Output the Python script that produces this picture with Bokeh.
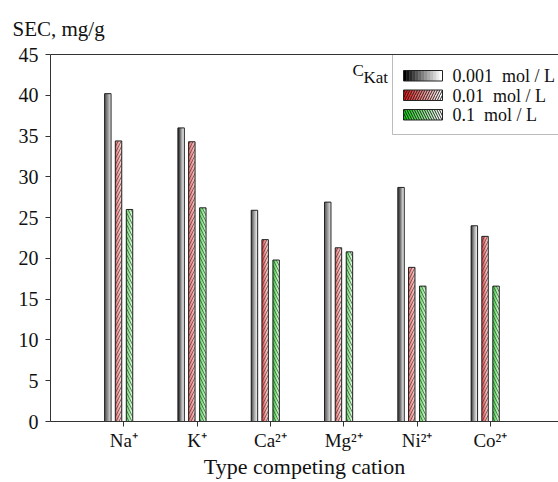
import numpy as np
from bokeh.plotting import figure
from bokeh.models import Range1d, FixedTicker, LinearAxis, Label, BoxAnnotation, Title
from bokeh.embed import file_html
from bokeh.resources import INLINE

# ---------------- data ----------------
cations = ["Na", "K", "Ca", "Mg", "Ni", "Co"]
charges = ["+", "+", "2+", "2+", "2+", "2+"]
conc_labels = ["0.001\u00a0 mol / L", "0.01\u00a0 mol / L", "0.1\u00a0 mol / L"]
sec_0001 = [40.2, 36.0, 25.9, 26.9, 28.7, 24.0]
sec_001 = [34.4, 34.3, 22.3, 21.3, 18.9, 22.7]
sec_01 = [26.0, 26.2, 19.8, 20.8, 16.6, 16.6]
y_ticks = [0, 5, 10, 15, 20, 25, 30, 35, 40, 45]
y_title = "SEC, mg/g"
x_title = "Type competing cation"
legend_title = ("C", "Kat")

# ---------------- layout constants (pixels) ----------------
W, H = 558, 482
FL, FR, FT, FB = 50, 558, 54, 421
X0, X1 = 0.0, 6.93
Y0, Y1 = 0.0, 45.0
XS = (FR - FL) / (X1 - X0)
YS = (FB - FT) / (Y1 - Y0)


def fx(px):
    return X0 + (px - FL) / XS


def fy(py):
    return Y0 + (FB - py) / YS


FONT = "Liberation Serif"
AX = "#333333"
TXT = "#111111"

p = figure(width=W, height=H, output_backend="svg", toolbar_location=None,
           x_range=Range1d(X0, X1), y_range=Range1d(Y0, Y1),
           min_border_left=FL, min_border_right=W - FR,
           min_border_top=FT, min_border_bottom=H - FB)
p.outline_line_color = None
p.grid.visible = False
p.background_fill_color = "white"
p.border_fill_color = "white"

# title (y quantity)
p.title = Title(text=y_title, align="left", offset=-38, text_font=FONT,
                text_font_size="21px", text_font_style="normal", text_color=TXT,
                standoff=28)

# y axis
ya = p.yaxis[0]
ya.ticker = FixedTicker(ticks=y_ticks)
ya.major_tick_out = 5
ya.major_tick_in = 0
ya.minor_tick_line_color = None
ya.major_label_standoff = 7
ya.major_label_text_font = FONT
ya.major_label_text_font_size = "20px"
ya.major_label_text_color = TXT
ya.axis_line_color = AX
ya.major_tick_line_color = AX

# x axis with superscripted cation labels
SUP = str.maketrans("0123456789+-", "⁰¹²³⁴⁵⁶⁷⁸⁹⁺⁻")
xs_pos = list(range(1, len(cations) + 1))
xa = p.xaxis[0]
xa.ticker = FixedTicker(ticks=xs_pos)
xa.major_label_overrides = {x: c + q.translate(SUP)
                            for x, c, q in zip(xs_pos, cations, charges)}
xa.major_tick_out = 5
xa.major_tick_in = 0
xa.minor_tick_line_color = None
xa.major_label_standoff = 3
xa.major_label_text_font = FONT
xa.major_label_text_font_size = "19px"
xa.major_label_text_color = TXT
xa.axis_label = x_title
xa.axis_label_standoff = 0
xa.axis_label_text_font = FONT
xa.axis_label_text_font_size = "22px"
xa.axis_label_text_font_style = "normal"
xa.axis_label_text_color = TXT
xa.axis_line_color = AX
xa.major_tick_line_color = AX

# top frame line
top = LinearAxis(ticker=FixedTicker(ticks=[]), major_label_text_font_size="0px",
                 major_tick_line_color=None, minor_tick_line_color=None,
                 axis_line_color=AX)
p.add_layout(top, "above")

# ---------------- bars ----------------
series = [sec_0001, sec_001, sec_01]
offsets = [-0.218, -0.072, 0.078]
bar_w = 0.088
grad = [("#2a2a2a", "#e6e6e6"), ("#e44848", "#fdcccc"), ("#3ccc3c", "#ccfbcc")]
hatches = [None, "/", "\\"]
NS = 6


def mix(c1, c2, t):
    a = np.array([int(c1[i:i + 2], 16) for i in (1, 3, 5)], float)
    b = np.array([int(c2[i:i + 2], 16) for i in (1, 3, 5)], float)
    c = a + (b - a) * t
    return "#%02x%02x%02x" % tuple(int(round(v)) for v in c)


for vals, off, (c1, c2), hp in zip(series, offsets, grad, hatches):
    sw = bar_w / NS
    for k in range(NS):
        t = k / (NS - 1)
        xk = [x + off - bar_w / 2 + (k + 0.5) * sw for x in xs_pos]
        p.vbar(x=xk, top=vals, bottom=0, width=sw * 1.02,
               fill_color=mix(c1, c2, t), line_color=None)
    kw = dict(hatch_pattern=hp, hatch_color="#333333", hatch_scale=6,
              hatch_weight=0.65) if hp else {}
    p.vbar(x=[x + off for x in xs_pos], top=vals, bottom=0, width=bar_w,
           fill_color=None, line_color="#222222", line_width=1, **kw)

# ---------------- legend (manual) ----------------
p.add_layout(BoxAnnotation(left=fx(392), right=fx(620), bottom=fy(134), top=fy(54),
                           fill_color="white", fill_alpha=1, level="underlay",
                           line_color="#222222", line_width=1))
p.add_layout(Label(x=fx(352), y=fy(70), text=legend_title[0], text_align="left",
                   text_baseline="alphabetic", text_font=FONT,
                   text_font_size="17px", text_color=TXT))
p.add_layout(Label(x=fx(363), y=fy(76.5), text=legend_title[1], text_align="left",
                   text_baseline="alphabetic", text_font=FONT,
                   text_font_size="17px", text_color=TXT))

leg_grad = [("#000000", "#ffffff"), ("#e01010", "#ffffff"), ("#10d010", "#ffffff")]
sw_top = [70, 89.5, 109]
NL = 13
for (c1, c2), hp, ty, lab in zip(leg_grad, hatches, sw_top, conc_labels):
    sx0, sx1 = 403, 442
    step = (sx1 - sx0) / NL
    lefts = [fx(sx0 + k * step) for k in range(NL)]
    rights = [fx(sx0 + (k + 1) * step + 0.3) for k in range(NL)]
    cols = [mix(c1, c2, k / (NL - 1)) for k in range(NL)]
    p.quad(left=lefts, right=rights, top=fy(ty), bottom=fy(ty + 10.5),
           fill_color=cols, line_color=None)
    kw = dict(hatch_pattern=hp, hatch_color="#111111", hatch_scale=5,
              hatch_weight=0.9) if hp else {}
    p.quad(left=fx(sx0), right=fx(sx1), top=fy(ty), bottom=fy(ty + 10.5),
           fill_color=None, line_color="#222222", line_width=1, **kw)
    p.add_layout(Label(x=fx(452), y=fy(ty + 5.5), text=lab, text_align="left",
                       text_baseline="middle", text_font=FONT,
                       text_font_size="18px", text_color=TXT))

open("out.html", "w").write(file_html(p, INLINE))
